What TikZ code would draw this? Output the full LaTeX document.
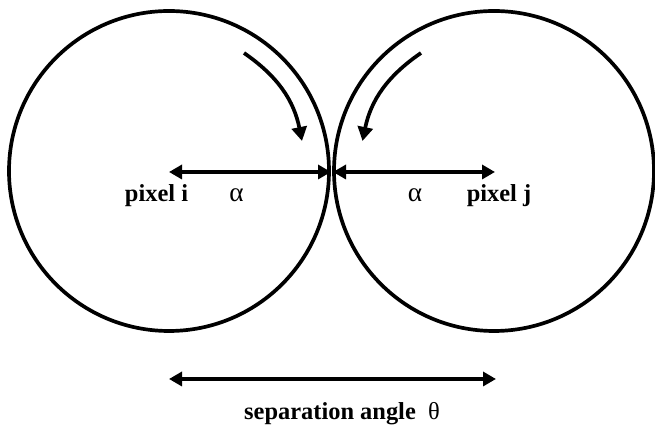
\documentclass[tikz,border=0pt]{standalone}
\usepackage{fontspec}
\setmainfont{Liberation Serif}
\usepackage{tikz}
\usetikzlibrary{arrows.meta}

\begin{document}
\begin{tikzpicture}[
    pix/.style={line width=2.1pt},
    dim/.style={line width=2.1pt, {Triangle[length=0.26cm, width=0.28cm]}-{Triangle[length=0.26cm, width=0.28cm]}},
    turn/.style={line width=2.1pt, -{Triangle[length=0.28cm, width=0.3cm]}},
    lbl/.style={font=\bfseries\fontsize{13.9}{16}\selectfont, inner sep=0pt},
    sym/.style={font=\fontsize{15.5}{18}\selectfont, inner sep=0pt}
  ]
  \useasboundingbox (0,0) rectangle (13.1,8.58);

  % Pixels
  \coordinate (ci) at (3.38, 5.14);
  \coordinate (cj) at (9.9, 5.14);
  \coordinate (ti) at (6.62, 5.14);
  \coordinate (tj) at (6.66, 5.14);
  \draw[pix] (3.38, 5.16) circle (3.2);
  \draw[pix] (9.88, 5.16) circle (3.2);
  \draw[dim] (ci) -- (ti);
  \draw[dim] (tj) -- (cj);
  \node[lbl] (pixi) at (3.13, 4.66) {pixel i};
  \node[lbl] (pixj) at (9.98, 4.66) {pixel j};
  \node[sym] (ai) at (4.73, 4.68) {α};
  \node[sym] (aj) at (8.3, 4.68) {α};

  % Rotation
  \coordinate (si) at (4.88, 7.52);
  \coordinate (ei) at (6.04, 5.76);
  \coordinate (sj) at (8.42, 7.52);
  \coordinate (ej) at (7.25, 5.76);
  \draw[turn] (si) to[bend left=22] (ei);
  \draw[turn] (sj) to[bend right=22] (ej);

  % Separation
  \coordinate (bl) at (3.38, 1.0);
  \coordinate (br) at (9.92, 1.0);
  \draw[dim] (bl) -- (br);
  \node[lbl] (sep) at (6.84, 0.3) {separation angle\hspace{0.5em}\mdseries θ};
\end{tikzpicture}
\end{document}
